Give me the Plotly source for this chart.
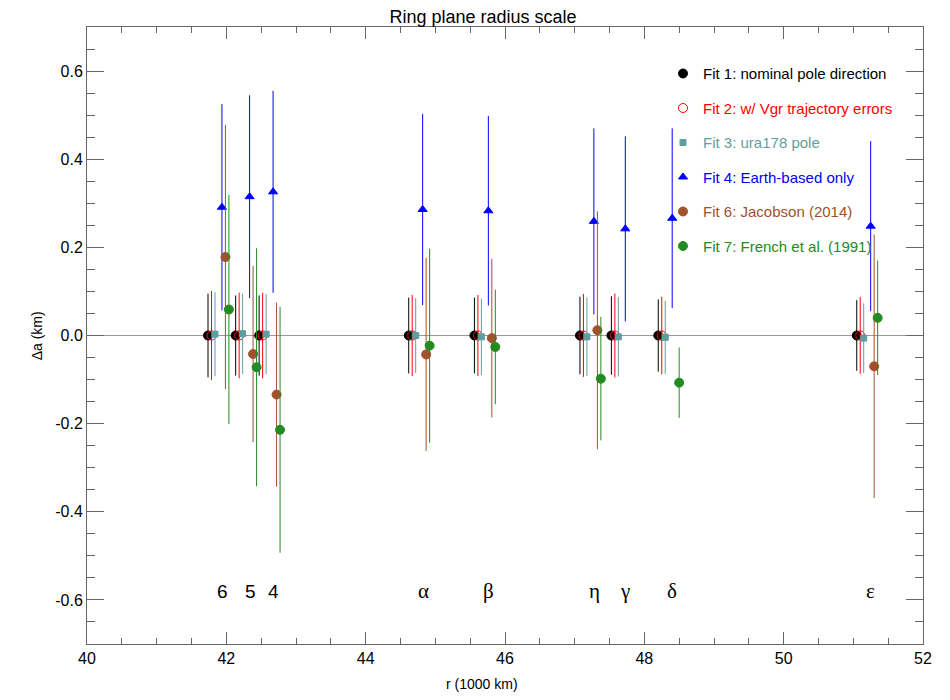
import plotly.graph_objects as go

# ring names and radii (1000 km)
ring_names = ["6", "5", "4", "α", "β", "η", "γ", "δ", "ε"]
ring_r = [41.837, 42.234, 42.571, 44.718, 45.661, 47.176, 47.627, 48.300, 51.149]

# delta a (km) and 1-sigma errors for each fit
fit1_da = [0, 0, 0, 0, 0, 0, 0, 0, 0]
fit1_err = [0.095, 0.091, 0.091, 0.086, 0.086, 0.088, 0.089, 0.082, 0.080]
fit2_da = [0, 0, 0, 0, 0, 0, 0, 0, 0]
fit2_err = [0.101, 0.097, 0.097, 0.092, 0.092, 0.094, 0.095, 0.088, 0.087]
fit3_da = [0.003, 0.004, 0.003, 0.0, -0.003, -0.003, -0.003, -0.004, -0.006]
fit3_err = [0.095, 0.091, 0.091, 0.085, 0.087, 0.089, 0.090, 0.083, 0.079]
fit4_da = [0.291, 0.315, 0.326, 0.286, 0.283, 0.259, 0.242, 0.266, 0.248]
fit4_err = [0.234, 0.230, 0.229, 0.217, 0.215, 0.211, 0.210, 0.204, 0.193]
fit6_da = [0.178, -0.042, -0.134, -0.043, -0.006, 0.012, None, None, -0.070]
fit6_err = [0.300, 0.200, 0.209, 0.219, 0.180, 0.270, None, None, 0.299]
fit7_da = [0.059, -0.072, -0.214, -0.023, -0.026, -0.098, None, -0.107, 0.040]
fit7_err = [0.260, 0.270, 0.279, 0.220, 0.130, 0.140, None, 0.080, 0.130]

y_ticks = [-0.6, -0.4, -0.2, 0.0, 0.2, 0.4, 0.6]
y_ticktext = ["-0.6", "-0.4", "-0.2", "0.0", "0.2", "0.4", "0.6"]

fits = [
    ("Fit 1: nominal pole direction", fit1_da, fit1_err, -0.10, "black", "circle", 9),
    ("Fit 2: w/ Vgr trajectory errors", fit2_da, fit2_err, -0.05, "red", "circle-open", 9),
    ("Fit 3: ura178 pole", fit3_da, fit3_err, 0.0, "#5F9EA0", "square", 6),
    ("Fit 4: Earth-based only", fit4_da, fit4_err, 0.10, "blue", "triangle-up", 8),
    ("Fit 6: Jacobson (2014)", fit6_da, fit6_err, 0.15, "#A0522D", "circle", 9),
    ("Fit 7: French et al. (1991)", fit7_da, fit7_err, 0.20, "#228B22", "circle", 9),
]

fig = go.Figure()
for i, (name, da, err, off, col, sym, sz) in enumerate(fits):
    fig.add_trace(go.Scatter(
        x=[r + off for r in ring_r], y=da, mode="markers",
        name=f'<span style="color:{col}">{name}</span>',
        legendgroup=str(i),
        marker=dict(color=col, symbol=sym, size=sz,
                    line=dict(width=1, color=col)),
        error_y=dict(type="data", array=err, color=col, thickness=1, width=0),
    ))

for name, r in zip(ring_names, ring_r):
    greek = not name.isdigit()
    fig.add_annotation(
        x=r, y=-0.58, text=name, showarrow=False, xanchor="left", yanchor="middle",
        font=dict(family="Liberation Serif" if greek else "Liberation Sans",
                  size=21 if greek else 19, color="black"))

fig.add_annotation(xref="paper", yref="paper", x=0.473, y=-0.048, text="r (1000 km)",
                   showarrow=False, yanchor="top", font=dict(size=14))
fig.add_annotation(xref="paper", yref="paper", x=-0.060, y=0.5, text="Δa (km)",
                   showarrow=False, textangle=-90, xanchor="center", font=dict(size=14))

axis_style = dict(showline=True, linecolor="#666", linewidth=1, mirror="ticks",
                  ticks="inside", tickcolor="#666", showgrid=False,
                  tickfont=dict(size=16, color="black"))

fig.update_layout(
    width=950, height=700,
    margin=dict(l=79, r=35, t=19, b=64),
    paper_bgcolor="white", plot_bgcolor="white",
    font=dict(family="Liberation Sans, Arial", color="black"),
    title=dict(text="Ring plane radius scale", x=0.5, xref="container",
               y=1.0, yanchor="top", pad=dict(t=2), font=dict(size=18)),
    xaxis=dict(range=[40, 52], dtick=2, ticklen=12,
               minor=dict(dtick=0.5, ticklen=6, ticks="inside", tickcolor="#666"),
               **axis_style),
    yaxis=dict(range=[-0.7, 0.7], tickvals=y_ticks, ticktext=y_ticktext, ticklen=17,
               zeroline=True, zerolinecolor="#999", zerolinewidth=1,
               minor=dict(dtick=0.05, ticklen=8, ticks="inside", tickcolor="#666"),
               **axis_style),
    showlegend=True,
    legend=dict(x=0.689, y=0.951, xanchor="left", yanchor="top",
                bgcolor="rgba(0,0,0,0)", font=dict(size=15),
                tracegroupgap=12, itemwidth=30),
)

fig.write_html("out.html")
